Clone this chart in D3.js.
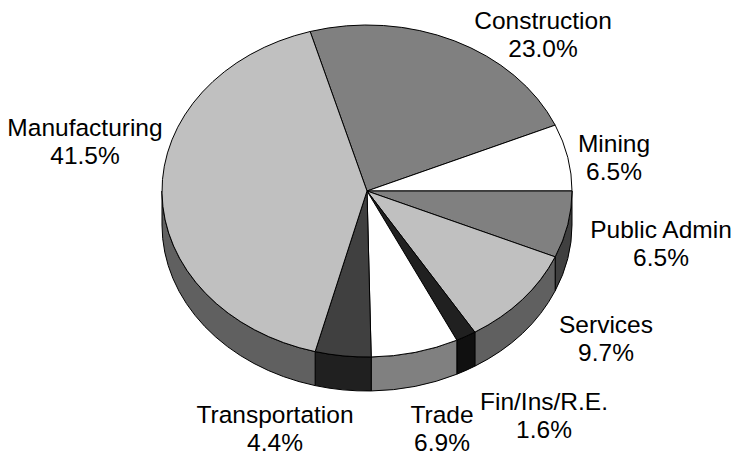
<!DOCTYPE html>
<html>
<head>
<meta charset="utf-8">
<script src="https://cdn.jsdelivr.net/npm/d3@7"></script>
<style>
  html, body { margin: 0; padding: 0; background: #fff; }
  svg { display: block; }
  text { font-family: "Liberation Sans", Arial, sans-serif; font-size: 24.5px; fill: #000; }
</style>
</head>
<body>
<svg class="chart" width="734" height="458"></svg>
<script>
const categories = ["Construction", "Mining", "Public Admin", "Services", "Fin/Ins/R.E.", "Trade", "Transportation", "Manufacturing"];
const shares = [23.0, 6.5, 6.5, 9.7, 1.6, 6.9, 4.4, 41.5];
const fills = ["#808080", "#ffffff", "#808080", "#c0c0c0", "#202020", "#ffffff", "#404040", "#c0c0c0"];

// label anchor (centre x, first baseline y)
const labelPos = [[543, 29], [614, 152], [661, 238], [606, 333], [544, 410], [442, 423], [275, 423], [85, 136]];

(() => {
  const svg = d3.select(".chart");
  const cx = 367, cy = 191, rx = 205, ry = 166, depth = 34;
  const start = -16.1 * Math.PI / 180;

  const pie = d3.pie().sort(null).value((d) => d.v)
    .startAngle(start).endAngle(start + 2 * Math.PI);

  const data = categories.map((c, i) => ({ name: c, v: shares[i], fill: fills[i], pos: labelPos[i] }));
  const arcs = pie(data);

  const px = (t) => cx + rx * Math.sin(t);
  const py = (t, dz = 0) => cy - ry * Math.cos(t) + dz;

  // visible rim runs from 3 o'clock to 9 o'clock through the bottom
  const sides = svg.append("g").attr("class", "sides");
  arcs.forEach((a) => {
    const t0 = Math.max(a.startAngle, Math.PI / 2);
    const t1 = Math.min(a.endAngle, 3 * Math.PI / 2);
    if (t1 <= t0) return;
    const large = t1 - t0 > Math.PI ? 1 : 0;
    const d = `M${px(t0)},${py(t0)}A${rx},${ry} 0 ${large} 1 ${px(t1)},${py(t1)}` +
      `L${px(t1)},${py(t1, depth)}A${rx},${ry} 0 ${large} 0 ${px(t0)},${py(t0, depth)}Z`;
    sides.append("path")
      .attr("d", d)
      .attr("fill", d3.interpolateRgb(a.data.fill, "#000")(0.5))
      .attr("stroke", "#000")
      .attr("stroke-width", 1)
      .attr("stroke-linejoin", "round");
  });

  const tops = svg.append("g").attr("class", "tops");
  tops.selectAll("path")
    .data(arcs)
    .enter()
    .append("path")
    .attr("d", (a) => {
      const large = a.endAngle - a.startAngle > Math.PI ? 1 : 0;
      return `M${cx},${cy}L${px(a.startAngle)},${py(a.startAngle)}` +
        `A${rx},${ry} 0 ${large} 1 ${px(a.endAngle)},${py(a.endAngle)}Z`;
    })
    .attr("fill", (a) => a.data.fill)
    .attr("stroke", "#000")
    .attr("stroke-width", 1)
    .attr("stroke-linejoin", "round");

  const labels = svg.append("g").attr("class", "labels")
    .selectAll("text")
    .data(arcs)
    .enter()
    .append("text")
    .attr("text-anchor", "middle")
    .attr("x", (a) => a.data.pos[0])
    .attr("y", (a) => a.data.pos[1]);

  labels.append("tspan")
    .attr("x", (a) => a.data.pos[0])
    .text((a) => a.data.name);

  labels.append("tspan")
    .attr("x", (a) => a.data.pos[0])
    .attr("dy", 28)
    .text((a) => d3.format(".1f")(a.data.v) + "%");
})();
</script>
</body>
</html>
